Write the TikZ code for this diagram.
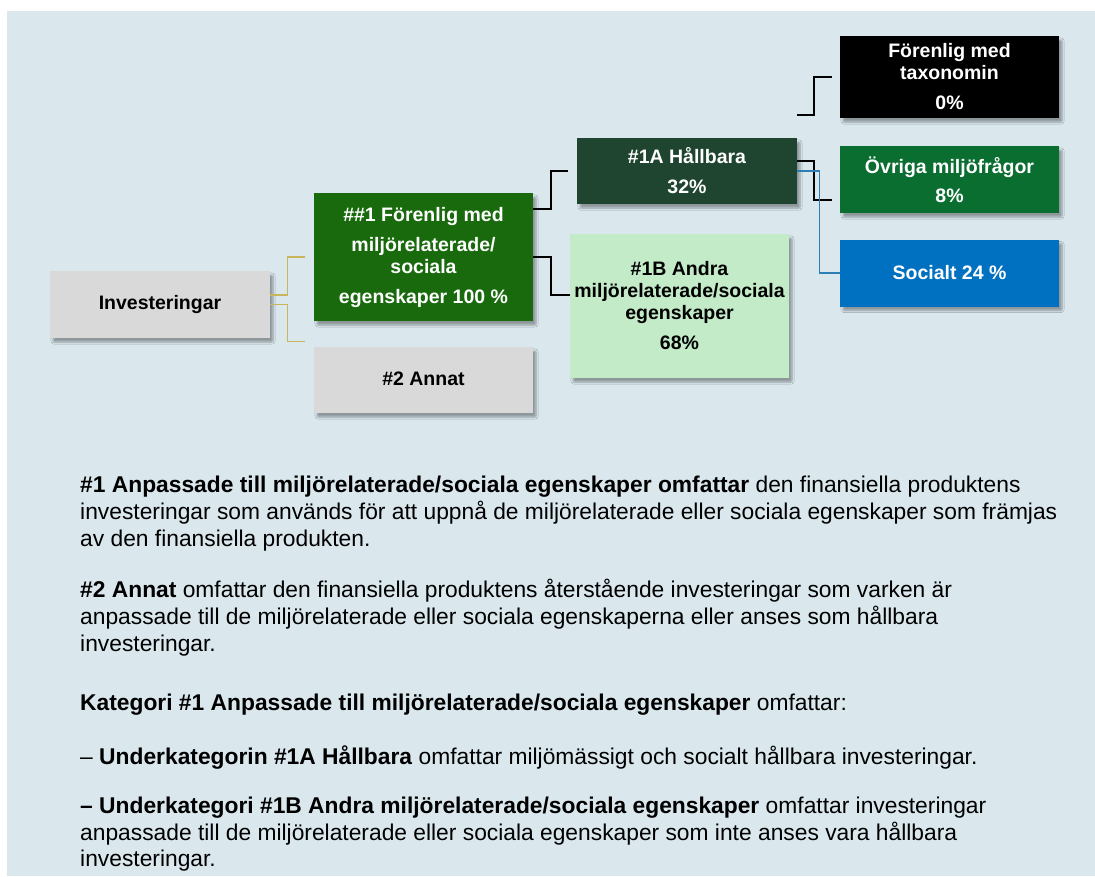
\documentclass[tikz,border=0pt]{standalone}
\usepackage{fontspec}
\setmainfont{Liberation Sans}
\usetikzlibrary{shadows.blur,calc}
\definecolor{panel}{HTML}{DAE8EE}
\definecolor{boxgray}{HTML}{D9D9D9}
\definecolor{greenA}{HTML}{186A0C}
\definecolor{darkgreen}{HTML}{1F4530}
\definecolor{lightgreen}{HTML}{C3EBC8}
\definecolor{midgreen}{HTML}{0A6E31}
\definecolor{socblue}{HTML}{0070C0}
\definecolor{goldline}{HTML}{C9B65A}
\definecolor{blueline}{HTML}{2E7DB5}
\tikzset{
  shad/.style={blur shadow={shadow blur steps=6,shadow xshift=3pt,shadow yshift=-4pt,shadow opacity=35,shadow blur extra rounding=1pt}},
  catbox/.style={shad,inner sep=0pt,align=center,font=\fontsize{19.5}{22}\selectfont\bfseries},
  graybox/.style={catbox,fill=boxgray,text=black},
  conn/.style={line width=1.6pt,black},
  goldconn/.style={line width=1.1pt,goldline},
  blueconn/.style={line width=1.4pt,blueline},
  body/.style={anchor=base west,inner sep=0pt,font=\fontsize{22.8}{27}\selectfont},
}
\begin{document}
\begin{tikzpicture}[x=1pt,y=-1pt]
\useasboundingbox (0,0) rectangle (1095,876);
\fill[white] (0,0) rectangle (1095,876);
\fill[panel] (7,11) rectangle (1095,876);

% boxes
\node[graybox,minimum width=220pt,minimum height=67pt] (inv) at (160,304.5) {Investeringar};
\node[catbox,fill=greenA,text=white,minimum width=219pt,minimum height=128pt] (f1) at (423.5,257)
  {\#\#1 Förenlig med\\[8pt]miljörelaterade/\\sociala\\[8pt]egenskaper 100 \%};
\node[graybox,minimum width=219pt,minimum height=66pt] (ann) at (423.5,380) {\raisebox{3pt}{\#2 Annat}};
\node[catbox,fill=darkgreen,text=white,minimum width=220pt,minimum height=66pt] (a1) at (687,171)
  {\#1A Hållbara\\[8pt]32\%};
\node[catbox,fill=lightgreen,text=black,minimum width=219pt,minimum height=144pt] (b1) at (679.5,306)
  {\#1B Andra\\miljörelaterade/sociala\\egenskaper\\[8pt]68\%};
\node[catbox,fill=black,text=white,minimum width=219pt,minimum height=82pt] (tax) at (949.5,77)
  {Förenlig med\\taxonomin\\[8pt]0\%};
\node[catbox,fill=midgreen,text=white,minimum width=219pt,minimum height=67pt] (ov) at (949.5,179.5)
  {Övriga miljöfrågor\\[7pt]8\%};
\node[catbox,fill=socblue,text=white,minimum width=219pt,minimum height=67pt] (so) at (949.5,273)
  {Socialt 24 \%};

% connectors
\draw[goldconn] ([yshift=9.5pt]inv.east) -- ++(17,0) |- ([xshift=-9pt]f1.west);
\draw[goldconn] (inv.east) -- ++(17,0) |- ([xshift=-9pt,yshift=5pt]ann.north west);
\draw[conn] ([yshift=48pt]f1.east) -- ++(18,0) |- ([xshift=-9pt]a1.west);
\draw[conn] (f1.east) -- ++(18,0) |- ([yshift=11pt]b1.west);
\draw[conn] ([yshift=10pt]a1.east) -- ++(17,0) |- ([xshift=-8pt,yshift=-20.5pt]ov.west);
\draw[blueconn] (a1.east) -- ++(22,0) |- (so.west);
\coordinate (tstart) at (797,115);
\draw[conn] (tstart) -- ++(17,0) |- ([xshift=-8pt]tax.west);

% text
\node[body] (p1a) at (80,492) {\textbf{\#1 Anpassade till miljörelaterade/sociala egenskaper omfattar} den finansiella produktens};
\node[body] (p1b) at (80,519) {investeringar som används för att uppnå de miljörelaterade eller sociala egenskaper som främjas};
\node[body] (p1c) at (80,546) {av den finansiella produkten.};
\node[body] (p2a) at (80,597) {\textbf{\#2 Annat} omfattar den finansiella produktens återstående investeringar som varken är};
\node[body] (p2b) at (80,624) {anpassade till de miljörelaterade eller sociala egenskaperna eller anses som hållbara};
\node[body] (p2c) at (80,651) {investeringar.};
\node[body] (p3) at (80,710) {\textbf{Kategori \#1 Anpassade till miljörelaterade/sociala egenskaper} omfattar:};
\node[body] (p4) at (80,764) {– \textbf{Underkategorin \#1A Hållbara} omfattar miljömässigt och socialt hållbara investeringar.};
\node[body] (p5a) at (80,813) {\textbf{– Underkategori \#1B Andra miljörelaterade/sociala egenskaper} omfattar investeringar};
\node[body] (p5b) at (80,840) {anpassade till de miljörelaterade eller sociala egenskaper som inte anses vara hållbara};
\node[body] (p5c) at (80,866) {investeringar.};
\end{tikzpicture}
\end{document}
